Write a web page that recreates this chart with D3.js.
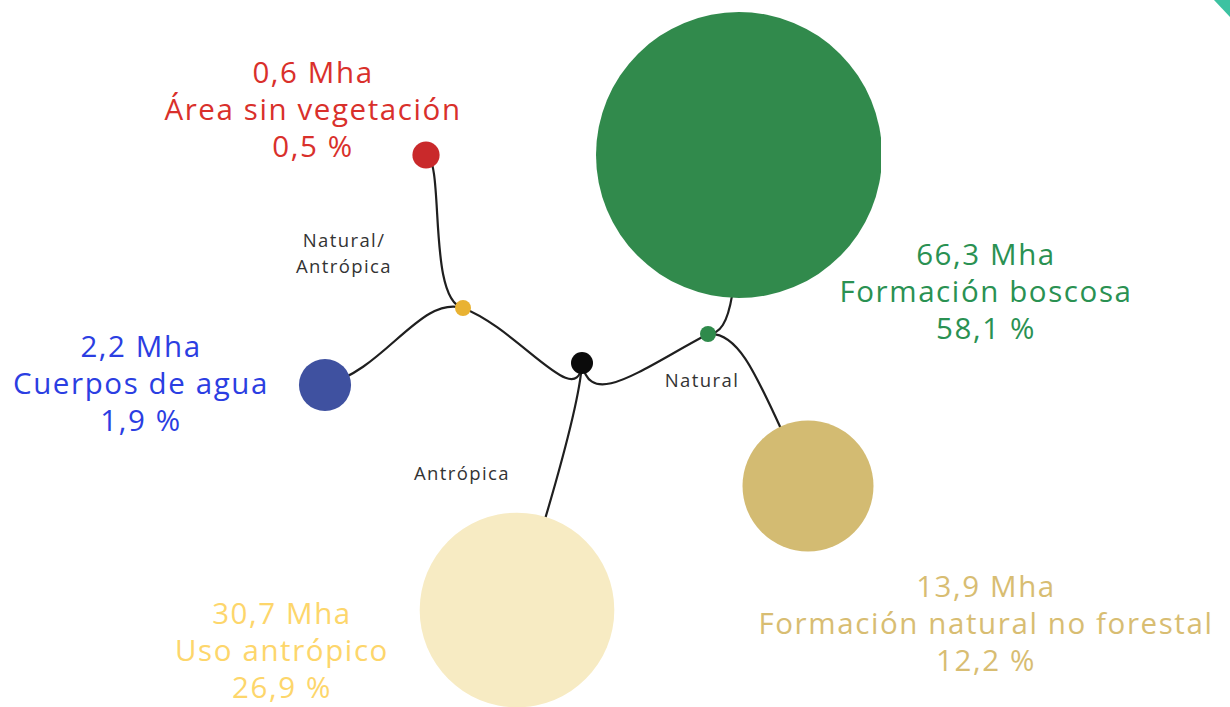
<!DOCTYPE html>
<html>
<head>
<meta charset="utf-8">
<script src="https://cdn.jsdelivr.net/npm/d3@7"></script>
<style>
  html, body { margin: 0; padding: 0; background: #ffffff; }
  svg { display: block; }
</style>
</head>
<body>
<svg id="chart" width="1230" height="707"></svg>
<script>
// ---------------- DATA ----------------
const categories = ["Formación boscosa", "Formación natural no forestal", "Uso antrópico", "Cuerpos de agua", "Área sin vegetación"];
const areaMha    = [66.3, 13.9, 30.7, 2.2, 0.6];
const percent    = [58.1, 12.2, 26.9, 1.9, 0.5];
const parentGroup = ["Natural", "Natural", "Antrópica", "Natural/Antrópica", "Natural/Antrópica"];
const groups      = ["Natural", "Antrópica", "Natural/Antrópica"];
const groupLabelLines = [["Natural"], ["Antrópica"], ["Natural/", "Antrópica"]];

// ---------------- LAYOUT / STYLE ----------------
const W = 1230, H = 707;
const rootPos = [582, 363];
const groupPos = { "Natural": [708, 334], "Antrópica": null, "Natural/Antrópica": [463, 308] };
const groupNodeStyle = { "Natural": { r: 8, fill: "#2f8a4b" }, "Natural/Antrópica": { r: 8, fill: "#e9b232" } };
const groupLabelPos = { "Natural": [702, 387], "Antrópica": [462, 480], "Natural/Antrópica": [344, 247] };
const leafPos = [[739, 155], [808, 486], [517, 610], [325, 385], [426, 155]];
const leafFill = ["#318a4c", "#d3bb72", "#f7ebc3", "#3f51a0", "#c9292b"];
const leafText = ["#2a9152", "#d8bd72", "#fdd66b", "#2b3ee2", "#d9302b"];
const labelPos = [[986, 265], [986, 597], [282, 624], [141, 357], [313, 83]];
// cubic control points for each link (c1, c2)
const linkCtrl = {
  "root-Natural": [[590, 410], [640, 370]],
  "root-Natural/Antrópica": [[578, 414], [520, 330]],
  "root-Uso antrópico": [[580, 400], [552, 500]],
  "Natural-Formación boscosa": [[732, 334], [738, 290]],
  "Natural-Formación natural no forestal": [[745, 330], [765, 400]],
  "Natural/Antrópica-Área sin vegetación": [[427, 300], [445, 160]],
  "Natural/Antrópica-Cuerpos de agua": [[420, 295], [385, 370]]
};

const svg = d3.select("#chart");
const fmt = v => d3.format(".1f")(v).replace(".", ",");

const rScale = d3.scaleSqrt().domain([0, d3.max(areaMha)]).range([0, 143]);

// decorative corner
svg.append("path")
  .attr("d", d3.line()([[1214, 0], [1230, 0], [1230, 17]]) + "Z")
  .attr("fill", "#3cc2a1");

svg.append("clipPath").attr("id", "clipR")
  .append("rect").attr("x", 0).attr("y", 0).attr("width", 881).attr("height", H);

// ---- links ----
function cubic(p0, c, p3) {
  const p = d3.path();
  p.moveTo(p0[0], p0[1]);
  p.bezierCurveTo(c[0][0], c[0][1], c[1][0], c[1][1], p3[0], p3[1]);
  return p.toString();
}
const links = [];
groups.forEach(g => {
  if (groupPos[g]) links.push({ key: "root-" + g, s: rootPos, t: groupPos[g] });
});
categories.forEach((c, i) => {
  const g = parentGroup[i];
  const src = groupPos[g] || rootPos;
  const key = (groupPos[g] ? g : "root") + "-" + c;
  links.push({ key: key, s: src, t: leafPos[i] });
});
svg.append("g").selectAll("path").data(links).join("path")
  .attr("d", d => cubic(d.s, linkCtrl[d.key], d.t))
  .attr("fill", "none")
  .attr("stroke", "#1f1f1f")
  .attr("stroke-width", 2.2);

// ---- leaf circles ----
svg.append("g").selectAll("circle").data(categories).join("circle")
  .attr("cx", (d, i) => leafPos[i][0])
  .attr("cy", (d, i) => leafPos[i][1])
  .attr("r", (d, i) => rScale(areaMha[i]))
  .attr("fill", (d, i) => leafFill[i])
  .attr("clip-path", "url(#clipR)");

// ---- group nodes ----
svg.append("g").selectAll("circle").data(groups.filter(g => groupPos[g])).join("circle")
  .attr("cx", g => groupPos[g][0])
  .attr("cy", g => groupPos[g][1])
  .attr("r", g => groupNodeStyle[g].r)
  .attr("fill", g => groupNodeStyle[g].fill);

// root node
svg.append("circle")
  .attr("cx", rootPos[0]).attr("cy", rootPos[1]).attr("r", 11)
  .attr("fill", "#0b0b0b");

// ---- group labels ----
groups.forEach((g, gi) => {
  const t = svg.append("text")
    .attr("x", groupLabelPos[g][0]).attr("y", groupLabelPos[g][1])
    .attr("text-anchor", "middle")
    .attr("font-family", "'Open Sans', sans-serif")
    .attr("font-size", 18.5)
    .attr("letter-spacing", 1.4)
    .attr("fill", "#333333");
  groupLabelLines[gi].forEach((line, li) => {
    t.append("tspan").attr("x", groupLabelPos[g][0]).attr("dy", li === 0 ? 0 : 26).text(line);
  });
});

// ---- leaf labels ----
categories.forEach((c, i) => {
  const lines = [fmt(areaMha[i]) + " Mha", c, fmt(percent[i]) + " %"];
  const t = svg.append("text")
    .attr("x", labelPos[i][0]).attr("y", labelPos[i][1])
    .attr("text-anchor", "middle")
    .attr("font-family", "'Open Sans', sans-serif")
    .attr("font-size", 29.5)
    .attr("letter-spacing", 1.6)
    .attr("fill", leafText[i]);
  lines.forEach((line, li) => {
    t.append("tspan").attr("x", labelPos[i][0]).attr("dy", li === 0 ? 0 : 37).text(line);
  });
});
</script>
</body>
</html>
